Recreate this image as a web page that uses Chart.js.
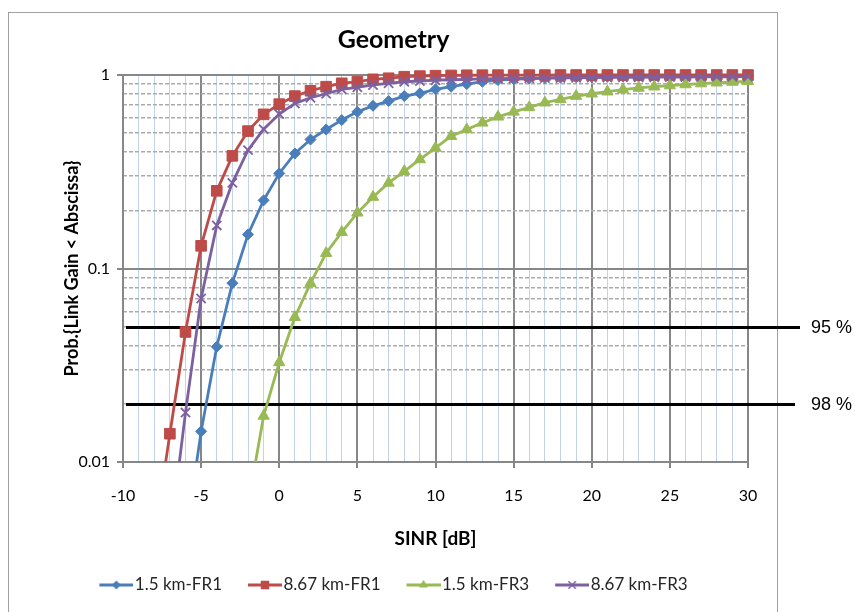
<!DOCTYPE html>
<html>
<head>
<meta charset="utf-8">
<script src="https://cdn.jsdelivr.net/npm/chart.js@4/dist/chart.umd.min.js"></script>
<style>
html,body{margin:0;padding:0;background:#fff;}
canvas{display:block;}
</style>
</head>
<body>
<canvas id="c" width="855" height="612"></canvas>
<script>
// ---------- DATA ----------
const sinr = [-8,-7,-6,-5,-4,-3,-2,-1,0,1,2,3,4,5,6,7,8,9,10,11,12,13,14,15,16,17,18,19,20,21,22,23,24,25,26,27,28,29,30];

const fr1_1p5 = [null,null,0.004,0.0144,0.0394,0.084,0.150,0.225,0.31,0.393,0.464,0.523,0.585,0.645,0.693,0.733,0.778,0.804,0.843,0.87,0.898,0.923,0.942,0.95,0.958,0.964,0.969,0.973,0.976,0.979,0.981,0.983,0.985,0.987,0.988,0.989,0.99,0.991,0.992];

const fr1_8p67 = [0.004,0.014,0.047,0.131,0.252,0.382,0.513,0.626,0.707,0.778,0.829,0.870,0.906,0.923,0.950,0.962,0.98,0.987,0.992,0.995,0.997,0.998,0.999,0.999,0.999,0.999,1,1,1,1,1,1,1,1,1,1,1,1,1];

const fr3_1p5 = [null,null,null,null,null,null,0.006,0.0173,0.0327,0.056,0.084,0.12,0.154,0.194,0.234,0.277,0.318,0.366,0.42,0.483,0.523,0.566,0.608,0.645,0.68,0.719,0.748,0.778,0.80,0.82,0.84,0.857,0.87,0.882,0.893,0.903,0.912,0.92,0.927];

const fr3_8p67 = [null,0.004,0.018,0.070,0.167,0.277,0.409,0.525,0.628,0.713,0.763,0.80,0.843,0.864,0.888,0.906,0.923,0.931,0.94,0.945,0.95,0.954,0.957,0.96,0.962,0.964,0.966,0.968,0.97,0.971,0.972,0.973,0.974,0.975,0.976,0.977,0.978,0.979,0.98];

const seriesLabels = ['1.5 km-FR1','8.67 km-FR1','1.5 km-FR3','8.67 km-FR3'];
const xTickValues = [-10,-9,-8,-7,-6,-5,-4,-3,-2,-1,0,1,2,3,4,5,6,7,8,9,10,11,12,13,14,15,16,17,18,19,20,21,22,23,24,25,26,27,28,29,30];
const yTickValues = [0.01,0.02,0.03,0.04,0.05,0.06,0.07,0.08,0.09,0.1,0.2,0.3,0.4,0.5,0.6,0.7,0.8,0.9,1];
const thresholds = [0.05, 0.02];
const thresholdLabels = ['95 %', '98 %'];

// ---------- STYLE ----------
const COLORS = ['#4a7ebb','#be4b48','#98b954','#7d60a0'];
const STYLES = ['rectRot','rect','triangle','crossRot'];
const RADII = [5.5,7.5,6.5,6.5];
const MAJOR = '#878787';
const MINOR_X = '#c3d4ea';
const MINOR_Y = '#ababab';
const FONT = 'Lato, "Open Sans", sans-serif';

function isDecade(v){ const l = Math.log10(v); return Math.abs(l - Math.round(l)) < 1e-9; }
function isMajorX(v){ return Math.abs(v % 5) < 1e-9; }

function drawMarker(g, style, x, y, r, color){
  g.fillStyle = color; g.strokeStyle = color; g.lineWidth = 1.5;
  g.beginPath();
  if (style === 'rectRot'){ g.moveTo(x-r,y); g.lineTo(x,y-r); g.lineTo(x+r,y); g.lineTo(x,y+r); g.closePath(); g.fill(); }
  else if (style === 'rect'){ const s=r*Math.SQRT1_2; g.rect(x-s,y-s,2*s,2*s); g.fill(); }
  else if (style === 'triangle'){ g.moveTo(x,y-r); g.lineTo(x+r*0.866,y+r*0.5); g.lineTo(x-r*0.866,y+r*0.5); g.closePath(); g.fill(); }
  else { const s=r*Math.SQRT1_2; g.moveTo(x-s,y-s); g.lineTo(x+s,y+s); g.moveTo(x+s,y-s); g.lineTo(x-s,y+s); g.stroke(); }
}
function legendIcon(i){
  const c = document.createElement('canvas');
  c.width = 41; c.height = 16;
  const g = c.getContext('2d');
  g.strokeStyle = COLORS[i]; g.lineWidth = 3;
  g.beginPath(); g.moveTo(7,8); g.lineTo(41,8); g.stroke();
  drawMarker(g, STYLES[i], 24, 8, RADII[i]*0.8, COLORS[i]);
  return c;
}
const icons = [0,1,2,3].map(legendIcon);

const allSeries = [fr1_1p5, fr1_8p67, fr3_1p5, fr3_8p67];
const datasets = allSeries.map((arr, i) => ({
  label: seriesLabels[i],
  data: sinr.map((x, k) => ({x: x, y: arr[k]})),
  borderColor: COLORS[i],
  backgroundColor: COLORS[i],
  pointBackgroundColor: COLORS[i],
  pointBorderColor: COLORS[i],
  borderWidth: 2.8,
  pointStyle: STYLES[i],
  pointRadius: RADII[i],
  pointHoverRadius: RADII[i],
  pointBorderWidth: i === 3 ? 1.8 : 1,
  tension: 0,
  spanGaps: false,
  order: 4 - i,
  clip: {left: 0, top: false, right: false, bottom: 0}
}));

const extras = {
  id: 'extras',
  beforeDraw(chart){
    const ctx = chart.ctx;
    ctx.save();
    ctx.fillStyle = '#fff';
    ctx.fillRect(0,0,chart.width,chart.height);
    ctx.strokeStyle = '#a0a0a0'; ctx.lineWidth = 1;
    ctx.strokeRect(8.5, 12.5, 769, 650);
    ctx.restore();
  },
  beforeDatasetsDraw(chart){
    const {ctx, chartArea, scales} = chart;
    const ends = [52, 47];
    thresholds.forEach((v, i) => {
      const py = Math.round(scales.y.getPixelForValue(v));
      ctx.save();
      ctx.strokeStyle = '#000'; ctx.lineWidth = 3;
      ctx.beginPath();
      ctx.moveTo(chartArea.left + 3, py + 0.5);
      ctx.lineTo(chartArea.right + ends[i], py + 0.5);
      ctx.stroke();
      ctx.font = '18px "Liberation Sans", Arial, sans-serif';
      ctx.fillStyle = '#000'; ctx.textBaseline = 'middle'; ctx.textAlign = 'left';
      ctx.fillText(thresholdLabels[i], chartArea.right + 63, py + 1);
      ctx.restore();
    });
  }
};

new Chart(document.getElementById('c'), {
  type: 'line',
  data: { datasets },
  plugins: [extras],
  options: {
    responsive: false,
    animation: false,
    events: [],
    layout: { padding: { left: 8, right: 76, top: 12, bottom: 8.5 } },
    plugins: {
      title: {
        display: true, text: 'Geometry', color: '#000',
        font: { family: FONT, size: 25, weight: 'bold', lineHeight: 1.2 },
        padding: { top: 13, bottom: 20 }
      },
      legend: {
        position: 'bottom',
        labels: {
          usePointStyle: true,
          pointStyleWidth: 27,
          padding: 26,
          color: '#262626',
          font: { family: FONT, size: 17 },
          generateLabels: (chart) => chart.data.datasets.map((ds, i) => ({
            text: ds.label, pointStyle: icons[i], fillStyle: COLORS[i], strokeStyle: COLORS[i],
            lineWidth: 0, hidden: false, datasetIndex: i, fontColor: '#262626'
          }))
        }
      },
      tooltip: { enabled: false }
    },
    scales: {
      x: {
        type: 'linear', min: -10, max: 30,
        afterBuildTicks: (s) => { s.ticks = xTickValues.map(v => ({value: v})); },
        afterFit: (s) => { s.height = 88.5; },
        ticks: {
          autoSkip: false, maxRotation: 0, padding: 18, color: '#000',
          font: { family: FONT, size: 16 },
          callback: (v) => isMajorX(v) ? String(v) : ''
        },
        grid: {
          color: (c) => (c.tick && isMajorX(c.tick.value)) ? MAJOR : MINOR_X,
          lineWidth: (c) => (c.tick && isMajorX(c.tick.value)) ? 2 : 1,
          tickColor: (c) => (c.tick && isMajorX(c.tick.value)) ? MAJOR : 'rgba(0,0,0,0)',
          tickLength: 6, tickWidth: 2
        },
        border: { color: MAJOR, width: 2 },
        title: {
          display: true, text: 'SINR [dB]', color: '#000',
          font: { family: FONT, size: 19, weight: 'bold', lineHeight: 1.2 },
          padding: { top: 0, bottom: 0 }
        }
      },
      y: {
        type: 'logarithmic', position: 'left', min: 0.01, max: 1,
        afterBuildTicks: (s) => { s.ticks = yTickValues.map(v => ({value: v})); },
        afterFit: (s) => { s.width = 115; },
        ticks: {
          autoSkip: false, padding: 7, color: '#000',
          font: { family: FONT, size: 16 },
          callback: (v) => isDecade(v) ? String(v) : ''
        },
        grid: {
          color: (c) => (c.tick && isDecade(c.tick.value)) ? MAJOR : 'rgba(0,0,0,0)',
          lineWidth: 2,
          tickColor: (c) => (c.tick && isDecade(c.tick.value)) ? MAJOR : 'rgba(0,0,0,0)',
          tickLength: 6, tickWidth: 2
        },
        border: { color: MAJOR, width: 2 },
        title: {
          display: true, text: 'Prob.{Link Gain < Abscissa}', color: '#000',
          font: { family: FONT, size: 18, weight: 'bold', lineHeight: 1.2 },
          padding: { top: 53, bottom: 0 }
        }
      },
      y2: {
        type: 'logarithmic', position: 'right', min: 0.01, max: 1,
        afterBuildTicks: (s) => { s.ticks = yTickValues.map(v => ({value: v})); },
        afterFit: (s) => { s.width = 31; },
        ticks: { display: false },
        grid: {
          color: (c) => (c.tick && !isDecade(c.tick.value)) ? MINOR_Y : 'rgba(0,0,0,0)',
          lineWidth: 1.5,
          drawTicks: false
        },
        border: { display: false, dash: [4, 2] }
      }
    }
  }
});
</script>
</body>
</html>
